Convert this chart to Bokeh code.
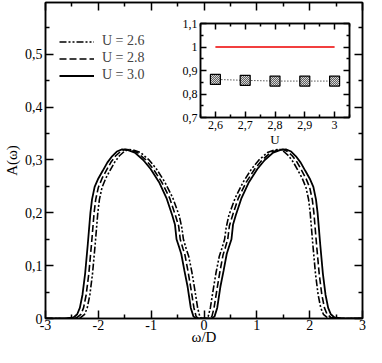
from bokeh.plotting import figure
from bokeh.models import Range1d, FixedTicker, LinearAxis, Legend, LegendItem
from bokeh.layouts import column
from bokeh.embed import file_html
from bokeh.resources import INLINE

FONT = "'Liberation Serif'"

# ---------------- data ----------------
w30 = [-3.0, -2.6, -2.47, -2.40, -2.35, -2.30, -2.25, -2.20, -2.15, -2.12, -2.07, -2.00, -1.92, -1.83,
       -1.74, -1.65, -1.55, -1.45, -1.31, -1.15, -1.01, -0.85, -0.71, -0.60, -0.55, -0.52, -0.47, -0.43,
       -0.37, -0.31, -0.25, -0.20, -0.15,
       0.15, 0.20, 0.25, 0.31, 0.37, 0.43, 0.47, 0.52, 0.55, 0.60, 0.71, 0.85, 1.01, 1.15, 1.31, 1.45,
       1.55, 1.65, 1.74, 1.83, 1.92, 2.00, 2.07, 2.12, 2.15, 2.20, 2.25, 2.30, 2.35, 2.40, 2.47, 2.6, 3.0]
a30 = [0.0, 0.0, 0.002, 0.008, 0.02, 0.045, 0.085, 0.14, 0.20, 0.225, 0.249, 0.265, 0.279, 0.295,
       0.307, 0.316, 0.320, 0.319, 0.314, 0.300, 0.283, 0.258, 0.228, 0.195, 0.178, 0.150, 0.135, 0.122,
       0.090, 0.060, 0.020, 0.004, 0.0,
       0.0, 0.004, 0.020, 0.060, 0.090, 0.122, 0.135, 0.150, 0.178, 0.195, 0.228, 0.258, 0.283, 0.300,
       0.314, 0.319, 0.320, 0.316, 0.307, 0.295, 0.279, 0.265, 0.249, 0.225, 0.20, 0.14, 0.085, 0.045,
       0.02, 0.008, 0.002, 0.0, 0.0]

w28 = [-3.0, -2.6, -2.40, -2.33, -2.28, -2.23, -2.18, -2.13, -2.08, -2.05, -2.00, -1.93, -1.85, -1.76,
       -1.67, -1.58, -1.50, -1.40, -1.26, -1.10, -0.96, -0.80, -0.65, -0.54, -0.48, -0.45, -0.40, -0.36,
       -0.30, -0.25, -0.19, -0.15, -0.11,
       0.11, 0.15, 0.19, 0.25, 0.30, 0.36, 0.40, 0.45, 0.48, 0.54, 0.65, 0.80, 0.96, 1.10, 1.26, 1.40,
       1.50, 1.58, 1.67, 1.76, 1.85, 1.93, 2.00, 2.05, 2.08, 2.13, 2.18, 2.23, 2.28, 2.33, 2.40, 2.6, 3.0]
a28 = [0.0, 0.0, 0.002, 0.008, 0.02, 0.045, 0.085, 0.14, 0.20, 0.225, 0.248, 0.265, 0.280, 0.296,
       0.308, 0.316, 0.320, 0.319, 0.314, 0.300, 0.283, 0.258, 0.228, 0.195, 0.175, 0.150, 0.133, 0.120,
       0.088, 0.058, 0.020, 0.004, 0.0,
       0.0, 0.004, 0.020, 0.058, 0.088, 0.120, 0.133, 0.150, 0.175, 0.195, 0.228, 0.258, 0.283, 0.300,
       0.314, 0.319, 0.320, 0.316, 0.308, 0.296, 0.280, 0.265, 0.248, 0.225, 0.20, 0.14, 0.085, 0.045,
       0.02, 0.008, 0.002, 0.0, 0.0]

w26 = [-3.0, -2.6, -2.33, -2.26, -2.21, -2.16, -2.11, -2.06, -2.01, -1.98, -1.93, -1.86, -1.78, -1.69,
       -1.60, -1.51, -1.44, -1.34, -1.20, -1.04, -0.90, -0.74, -0.59, -0.47, -0.42, -0.39, -0.34, -0.29,
       -0.23, -0.18, -0.12, -0.08, -0.05,
       0.05, 0.08, 0.12, 0.18, 0.23, 0.29, 0.34, 0.39, 0.42, 0.47, 0.59, 0.74, 0.90, 1.04, 1.20, 1.34,
       1.44, 1.51, 1.60, 1.69, 1.78, 1.86, 1.93, 1.98, 2.01, 2.06, 2.11, 2.16, 2.21, 2.26, 2.33, 2.6, 3.0]
a26 = [0.0, 0.0, 0.002, 0.008, 0.02, 0.045, 0.085, 0.14, 0.20, 0.225, 0.248, 0.265, 0.280, 0.296,
       0.308, 0.316, 0.320, 0.319, 0.314, 0.300, 0.283, 0.258, 0.228, 0.195, 0.172, 0.150, 0.133, 0.118,
       0.088, 0.058, 0.020, 0.004, 0.0,
       0.0, 0.004, 0.020, 0.058, 0.088, 0.118, 0.133, 0.150, 0.172, 0.195, 0.228, 0.258, 0.283, 0.300,
       0.314, 0.319, 0.320, 0.316, 0.308, 0.296, 0.280, 0.265, 0.248, 0.225, 0.20, 0.14, 0.085, 0.045,
       0.02, 0.008, 0.002, 0.0, 0.0]

series_labels = ["U = 2.6", "U = 2.8", "U = 3.0"]

x_ticks = [-3, -2, -1, 0, 1, 2, 3]
x_tick_labels = ["-3", "-2", "-1", "0", "1", "2", "3"]
x_minor = [-2.5, -1.5, -0.5, 0.5, 1.5, 2.5]
y_ticks = [0.0, 0.1, 0.2, 0.3, 0.4, 0.5]
y_tick_labels = ["0", "0,1", "0,2", "0,3", "0,4", "0,5"]
y_minor = [0.05, 0.15, 0.25, 0.35, 0.45, 0.55]

# inset
u_vals = [2.6, 2.7, 2.8, 2.9, 3.0]
z_vals = [0.862, 0.858, 0.855, 0.855, 0.855]
red_vals = [1.0, 1.0, 1.0, 1.0, 1.0]
ix_ticks = [2.6, 2.7, 2.8, 2.9, 3.0]
ix_tick_labels = ["2,6", "2,7", "2,8", "2,9", "3"]
ix_minor = [2.55, 2.65, 2.75, 2.85, 2.95, 3.05]
iy_ticks = [0.7, 0.8, 0.9, 1.0, 1.1]
iy_tick_labels = ["0,7", "0,8", "0,9", "1", "1,1"]
iy_minor = [0.75, 0.85, 0.95, 1.05]


def style_axis(ax, ticks, labels, minor, fs, show_labels=True, major_len=8, minor_len=4):
    ax.ticker = FixedTicker(ticks=ticks, minor_ticks=minor)
    ax.major_tick_in = major_len
    ax.major_tick_out = 0
    ax.minor_tick_in = minor_len
    ax.minor_tick_out = 0
    ax.axis_line_width = 1.5
    ax.major_tick_line_width = 1.5
    ax.minor_tick_line_width = 1.5
    ax.axis_line_color = "black"
    ax.major_tick_line_color = "black"
    ax.minor_tick_line_color = "black"
    ax.major_label_text_font = FONT
    ax.major_label_text_color = "black"
    ax.major_label_text_font_size = fs
    ax.axis_label_text_font = FONT
    ax.axis_label_text_font_style = "normal"
    ax.axis_label_text_color = "black"
    if show_labels:
        ax.major_label_overrides = {t: l for t, l in zip(ticks, labels)}
        ax.major_label_standoff = 3
    else:
        ax.major_label_overrides = {t: "" for t in ticks}
        ax.major_label_standoff = 0
        ax.axis_label_standoff = 0


# ---------------- main plot ----------------
p = figure(width=366, height=347, output_backend="svg", toolbar_location=None,
           x_range=Range1d(-3, 3), y_range=Range1d(0, 0.598),
           min_border_left=40, min_border_right=2, min_border_top=2, min_border_bottom=26)
p.grid.visible = False
p.outline_line_color = "black"
p.outline_line_width = 1.5
p.background_fill_color = "white"
p.border_fill_color = "white"

style_axis(p.xaxis[0], x_ticks, x_tick_labels, x_minor, "14px")
style_axis(p.yaxis[0], y_ticks, y_tick_labels, y_minor, "14px")
p.xaxis[0].axis_label = "ω/D"
p.yaxis[0].axis_label = "A(ω)"
p.xaxis[0].axis_label_text_font_size = "15px"
p.yaxis[0].axis_label_text_font_size = "15px"
p.xaxis[0].major_label_standoff = 1
p.xaxis[0].axis_label_standoff = -4
p.yaxis[0].axis_label_standoff = 2

top_ax = LinearAxis()
style_axis(top_ax, x_ticks, x_tick_labels, x_minor, "14px", show_labels=False)
p.add_layout(top_ax, "above")
right_ax = LinearAxis()
style_axis(right_ax, y_ticks, y_tick_labels, y_minor, "14px", show_labels=False)
p.add_layout(right_ax, "right")

r26 = p.line(w26, a26, line_color="black", line_width=1.6, line_dash="7 2 2 2 2 2")
r28 = p.line(w28, a28, line_color="black", line_width=1.6, line_dash="7 3")
r30 = p.line(w30, a30, line_color="black", line_width=1.8)

legend = Legend(items=[LegendItem(label=series_labels[0], renderers=[r26]),
                       LegendItem(label=series_labels[1], renderers=[r28]),
                       LegendItem(label=series_labels[2], renderers=[r30])],
                location=(14, 235), border_line_color=None, background_fill_alpha=0,
                padding=0, spacing=1, glyph_width=35, glyph_height=15, label_height=15,
                label_standoff=8, label_text_font=FONT, label_text_font_size="14px", margin=0)
p.add_layout(legend)

# ---------------- inset ----------------
L, T = 34, 10
p2 = figure(width=198, height=136, output_backend="svg", toolbar_location=None,
            x_range=Range1d(2.55, 3.05), y_range=Range1d(0.7, 1.1),
            min_border_left=L, min_border_right=4, min_border_top=T, min_border_bottom=30)
p2.margin = (-334, 0, 0, 155)
p2.grid.visible = False
p2.outline_line_color = "black"
p2.outline_line_width = 1.5
p2.background_fill_color = "white"
p2.border_fill_color = None

style_axis(p2.xaxis[0], ix_ticks, ix_tick_labels, ix_minor, "12px", major_len=6, minor_len=3)
style_axis(p2.yaxis[0], iy_ticks, iy_tick_labels, iy_minor, "12px", major_len=6, minor_len=3)
p2.xaxis[0].axis_label = "U"
p2.xaxis[0].axis_label_text_font_size = "13px"
p2.xaxis[0].axis_label_standoff = 0
top2 = LinearAxis()
style_axis(top2, ix_ticks, ix_tick_labels, ix_minor, "12px", show_labels=False, major_len=6, minor_len=3)
p2.add_layout(top2, "above")
right2 = LinearAxis()
style_axis(right2, iy_ticks, iy_tick_labels, iy_minor, "12px", show_labels=False, major_len=6, minor_len=3)
p2.add_layout(right2, "right")

p2.line(u_vals, red_vals, line_color="#ee0000", line_width=1.6)
p2.line(u_vals, z_vals, line_color="black", line_width=1, line_dash="1 2")
p2.scatter(u_vals, z_vals, marker="square", size=10, fill_color="#606060", line_color="black",
           line_width=1.2, hatch_pattern="diagonal_cross", hatch_color="#dddddd", hatch_scale=2,
           hatch_weight=1)

layout = column(p, p2, spacing=0)
open("out.html", "w").write(file_html(layout, INLINE))
